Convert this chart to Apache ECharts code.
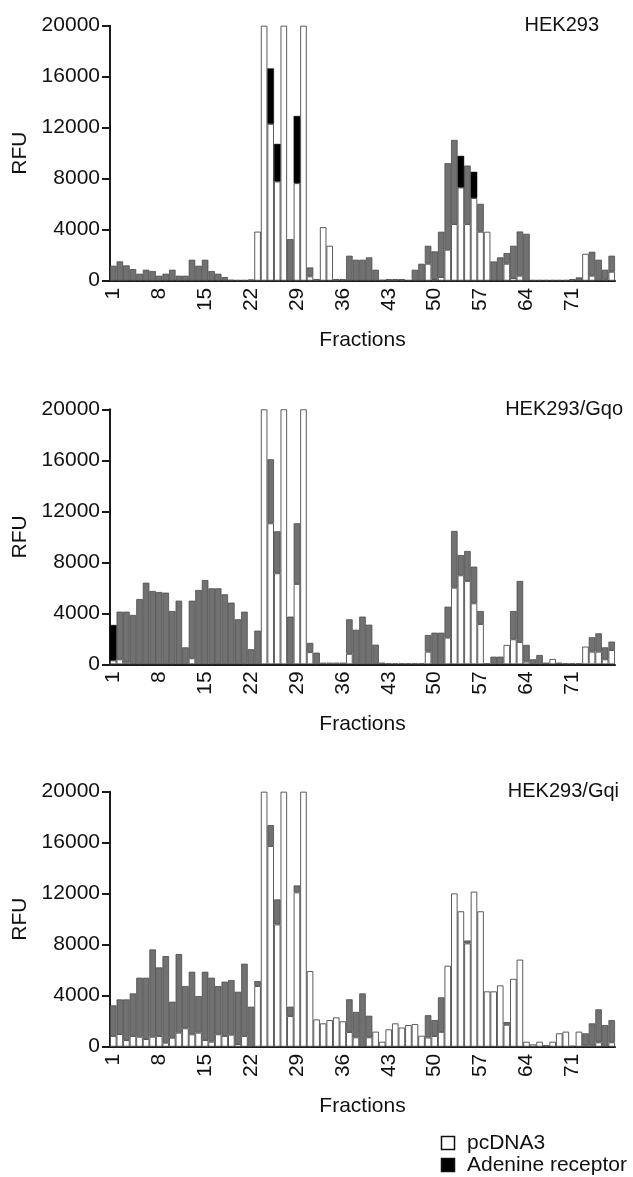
<!DOCTYPE html>
<html>
<head>
<meta charset="utf-8">
<script src="https://cdn.jsdelivr.net/npm/echarts@6/dist/echarts.min.js"></script>
<style>
html,body{margin:0;padding:0;background:#fff;}
#chart{width:633px;height:1177px;}
</style>
</head>
<body>
<div id="chart"></div>
<script>
// ---------- DATA ----------
const fractions = [1,2,3,4,5,6,7,8,9,10,11,12,13,14,15,16,17,18,19,20,21,22,23,24,25,26,27,28,29,30,31,32,33,34,35,36,37,38,39,40,41,42,43,44,45,46,47,48,49,50,51,52,53,54,55,56,57,58,59,60,61,62,63,64,65,66,67,68,69,70,71,72,73,74,75,76,77];
const tickFractions = [1,8,15,22,29,36,43,50,57,64,71];
const rfuTicks = [0,4000,8000,12000,16000,20000];
const panelTitles = ['HEK293','HEK293/Gqo','HEK293/Gqi'];
const legendNames = ['pcDNA3','Adenine receptor'];

// white (pcDNA3) bar heights
const hekWhite = [0,0,0,0,0,0,0,0,0,0, 0,0,0,0,0,0,0,0,0,0, 0,100,3850,20000,12300,7780,20000,0,7650,20000, 340,130,4200,2740,130,130,0,0,0,0, 0,0,130,130,130,0,0,0,1330,130, 290,2430,4440,7310,4440,6480,3840,3840,0,0, 1330,210,390,0,0,0,0,0,0,0, 130,0,2110,390,0,80,700];
// top of grey segment (0 = none)
const hekGrey = [1175,1514,1200,914,548,861,757,392,548,861, 392,392,1644,1175,1644,757,548,287,80,60, 60,0,0,0,0,0,0,3260,0,0, 1040,0,0,0,0,0,1960,1645,1645,1830, 860,80,0,0,0,60,860,1330,2740,2300, 3840,9220,11040,0,9030,0,6030,0,1510,1830, 2170,2740,3860,3680,60,60,60,60,60,60, 0,260,0,2270,1645,860,1960];
// top of black segment (0 = none)
const hekBlack = [0,0,0,0,0,0,0,0,0,0, 0,0,0,0,0,0,0,0,0,0, 0,0,0,0,16650,10730,0,0,12920,0, 0,0,0,0,0,0,0,0,0,0, 0,0,0,0,0,0,0,0,0,0, 0,0,0,9790,0,8540,0,0,0,0, 0,0,0,0,0,0,0,0,0,0, 0,0,0,0,0,0,0];

const gqoWhite = [300,390,130,0,0,0,0,0,0,0, 0,0,470,0,0,0,0,0,0,0, 0,0,0,20000,11060,7140,20000,0,6300,20000, 950,0,130,130,130,130,820,0,0,0, 0,0,0,0,0,0,0,0,990,0, 0,2090,6010,6980,6540,4780,3160,0,0,0, 1520,1960,1750,210,0,0,0,420,0,0, 0,0,1390,990,990,390,1120];
const gqoGrey = [0,4130,4130,3870,5120,6400,5750,5670,5620,4180, 4990,1330,4990,5830,6610,5960,5960,5490,4840,3530, 4130,1180,2640,0,16080,10430,0,3740,11060,0, 1680,915,0,0,0,0,3530,2710,3740,3110, 1540,130,80,80,80,80,80,80,2300,2480, 2480,4520,10460,8570,8890,7660,4180,80,600,600, 0,4180,6540,1520,390,730,130,0,130,80, 80,80,0,2120,2430,1330,1780];
const gqoBlack = [3085,0,0,0,0,0,0,0,0,0, 0,0,0,0,0,0,0,0,0,0, 0,0,0,0,0,0,0,0,0,0, 0,0,0,0,0,0,0,0,0,0, 0,0,0,0,0,0,0,0,0,0, 0,0,0,0,0,0,0,0,0,0, 0,0,0,0,0,0,0,0,0,0, 0,0,0,0,0,0,0];

const gqiWhite = [840,990,520,840,780,600,780,840,310,700, 1100,1440,970,1100,520,390,970,840,940,210, 840,0,4760,20000,15740,9590,20000,2400,12100,20000, 5930,2140,1830,2090,2300,1990,1150,730,0,730, 1180,390,1360,1830,1500,1700,1780,860,720,840, 1160,6350,12020,10620,8100,12160,10620,4340,4340,4810, 1720,5320,6830,390,180,390,0,390,1050,1180, 80,1180,80,80,340,0,340];
const gqiGrey = [3240,3710,3710,4180,5410,5410,7630,6220,7110,3530, 7270,4760,5880,3970,5880,5410,4760,5100,5230,4310, 6510,3140,5150,0,17380,11550,0,3140,12650,0, 0,0,0,0,0,0,3720,2730,4180,2430, 0,0,0,0,0,0,0,0,2470,2090, 3870,0,0,0,8330,0,0,0,0,0, 1930,0,0,0,0,0,130,0,0,0, 0,0,1050,1830,2930,1700,2090];
const gqiBlack = [0,0,0,0,0,0,0,0,0,0, 0,0,0,0,0,0,0,0,0,0, 0,0,0,0,0,0,0,0,0,0, 0,0,0,0,0,0,0,0,0,0, 0,0,0,0,0,0,0,0,0,0, 0,0,0,0,0,0,0,0,0,0, 0,0,0,0,0,0,0,0,0,0, 0,0,0,0,0,0,0];

// ---------- CHART ----------
const FONT = 'Liberation Sans, Arial, sans-serif';
const panels = [
  {white: hekWhite, grey: hekGrey, black: hekBlack},
  {white: gqoWhite, grey: gqoGrey, black: gqoBlack},
  {white: gqiWhite, grey: gqiGrey, black: gqiBlack}
];
const gridTops = [25.7, 409.3, 791.7];
const titleRight = [599, 623, 619];

const grids = [], xAxes = [], yAxes = [], series = [], graphics = [];
panels.forEach((p, k) => {
  grids.push({left: 110, right: 18, top: gridTops[k], height: 255, containLabel: false});
  xAxes.push({
    type: 'category', gridIndex: k, data: fractions.map(String),
    axisLine: {lineStyle: {color: '#1a1a1a', width: 2}},
    axisTick: {show: false},
    axisLabel: {
      interval: (i, v) => tickFractions.indexOf(Number(v)) >= 0,
      rotate: 90, margin: 7, fontSize: 21, color: '#111', fontFamily: FONT
    },
    name: 'Fractions', nameLocation: 'middle', nameGap: 49,
    nameTextStyle: {fontSize: 21, color: '#111', fontFamily: FONT}
  });
  yAxes.push({
    type: 'value', gridIndex: k, min: rfuTicks[0], max: rfuTicks[rfuTicks.length-1], interval: 4000,
    axisLine: {show: true, lineStyle: {color: '#1a1a1a', width: 2}},
    axisTick: {show: true, length: 8, lineStyle: {color: '#1a1a1a', width: 2}},
    axisLabel: {margin: 10, fontSize: 21, color: '#111', fontFamily: FONT,
      formatter: v => String(v)},
    splitLine: {show: false},
    name: 'RFU', nameLocation: 'middle', nameGap: 78,
    nameTextStyle: {fontSize: 21, color: '#111', fontFamily: FONT}
  });
  const w = p.white.map(v => v > 0 ? v : '-');
  const g = p.grey.map((v, i) => v > 0 ? v - p.white[i] : '-');
  const b = p.black.map((v, i) => v > 0 ? v - p.white[i] : '-');
  const common = {type: 'bar', xAxisIndex: k, yAxisIndex: k, stack: 'p' + k,
    barCategoryGap: '0%', animation: false, silent: true};
  series.push(Object.assign({}, common, {name: legendNames[0], data: w,
    itemStyle: {color: '#ffffff', borderColor: '#4a4a4a', borderWidth: 0.9}}));
  series.push(Object.assign({}, common, {name: 'overlap', data: g,
    itemStyle: {color: '#717171', borderColor: '#4d4d4d', borderWidth: 0.8}}));
  series.push(Object.assign({}, common, {name: legendNames[1], data: b,
    itemStyle: {color: '#000000', borderColor: '#000', borderWidth: 0.5}}));
  graphics.push({type: 'text', x: titleRight[k], y: gridTops[k], style: {
    text: panelTitles[k], fontSize: 20, fontFamily: FONT, fill: '#111',
    align: 'right', verticalAlign: 'middle'}});
});

// legend (drawn as graphic elements for exact placement)
const legendFills = ['#ffffff', '#000000'];
legendNames.forEach((nm, j) => {
  const cy = 1143 + j * 22;
  graphics.push({type: 'rect', shape: {x: 441.5, y: cy - 6.5, width: 13, height: 13},
    style: {fill: legendFills[j], stroke: '#111', lineWidth: 1.5}});
  graphics.push({type: 'text', x: 467, y: cy, style: {text: nm, fontSize: 21,
    fontFamily: FONT, fill: '#111', align: 'left', verticalAlign: 'middle'}});
});

const chart = echarts.init(document.getElementById('chart'), null, {renderer: 'canvas'});
chart.setOption({
  animation: false,
  backgroundColor: '#ffffff',
  textStyle: {fontFamily: FONT},
  grid: grids, xAxis: xAxes, yAxis: yAxes, series: series,
  graphic: graphics
});
</script>
</body>
</html>
